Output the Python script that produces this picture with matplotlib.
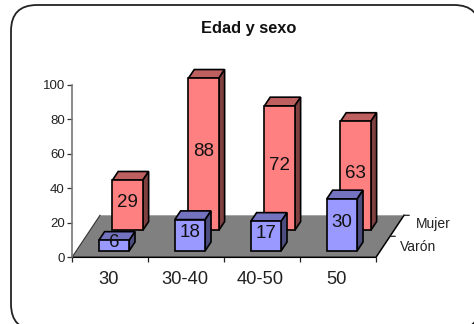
from __future__ import annotations

import matplotlib

matplotlib.use("Agg")

import matplotlib.pyplot as plt
from matplotlib.patches import FancyBboxPatch, Polygon
from matplotlib.transforms import Affine2D

categories = ["30", "30-40", "40-50", "50"]
varon = [6, 18, 17, 30]
mujer = [29, 88, 72, 63]
y_ticks = [0, 20, 40, 60, 80, 100]
series_names = ["Varón", "Mujer"]

W, H = 474, 324
plt.rcParams["font.family"] = ["Liberation Sans", "DejaVu Sans"]

# oblique depth: how far one full unit of depth moves in x (categories) and y (values)
DEPTH_X = 28 / 76
DEPTH_Y = 42 / 1.728
BAR_W = 0.40
BAR_SHIFT = 0.495


def project(x, y, depth):
    return x + depth * DEPTH_X, y + depth * DEPTH_Y


def draw_bar(ax, i, value, depth0, depth1, colors):
    left = i + BAR_SHIFT - BAR_W / 2
    right = left + BAR_W
    front, top, side = colors

    top_pts = [
        project(left, value, depth0),
        project(right, value, depth0),
        project(right, value, depth1),
        project(left, value, depth1),
    ]
    side_pts = [
        project(right, 0, depth0),
        project(right, 0, depth1),
        project(right, value, depth1),
        project(right, value, depth0),
    ]
    front_pts = [
        project(left, 0, depth0),
        project(right, 0, depth0),
        project(right, value, depth0),
        project(left, value, depth0),
    ]
    for pts, color in [(top_pts, top), (side_pts, side), (front_pts, front)]:
        ax.add_patch(Polygon(pts, closed=True, facecolor=color, edgecolor="black",
                             linewidth=1.2, joinstyle="miter", clip_on=False, zorder=3))

    cx, cy = project(i + BAR_SHIFT, value / 2, depth0)
    ax.annotate(str(value), (cx, cy), xytext=(0, 2), textcoords="offset points",
                ha="center", va="center", fontsize=13.5, color="#111111",
                annotation_clip=False, zorder=4)


fig = plt.figure(figsize=(W / 100, H / 100), dpi=100, facecolor="white")

# rounded chart frame, runs past the right and bottom edges of the picture
frame = FancyBboxPatch(
    (29, 23), 433, 289,
    boxstyle="round,pad=18,rounding_size=26",
    transform=Affine2D().scale(1 / W, -1 / H).translate(0, 1) + fig.transFigure,
    facecolor="white", edgecolor="#222222", linewidth=1.3, clip_on=False, zorder=-1,
)
fig.add_artist(frame)

ax = fig.add_axes([72 / W, 1 - 257.3 / H, (376 - 72) / W, (257.3 - 84.5) / H])
ax.patch.set_alpha(0)
ax.set_xlim(0, len(categories))
ax.set_ylim(0, 100)

for spine in ["top", "right", "bottom"]:
    ax.spines[spine].set_visible(False)
ax.spines["left"].set_color("#777777")
ax.spines["left"].set_linewidth(1.2)

# grey floor
n = len(categories)
floor = [project(0, 0, 0), project(n, 0, 0), project(n, 0, 1), project(0, 0, 1)]
ax.add_patch(Polygon(floor, closed=True, facecolor="#808080", edgecolor="none",
                     clip_on=False, zorder=1))
ax.plot(*zip(project(0, 0, 0), project(n, 0, 0), project(n, 0, 1)), color="black",
        linewidth=1.1, clip_on=False, zorder=2)
ax.plot(*zip(project(0, 0, 0), project(0, 0, 1)), color="#333333", linewidth=0.8,
        clip_on=False, zorder=2)

ax.set_yticks(y_ticks)
ax.set_yticklabels([str(v) for v in y_ticks], fontsize=9.5)
ax.tick_params(axis="y", length=3.6, width=0.9, color="#333333", pad=1.5, labelcolor="#222222")

ax.set_xticks(range(n + 1))
ax.set_xticklabels([])
ax.tick_params(axis="x", length=3.6, width=0.9, color="#222222")
for i, name in enumerate(categories):
    ax.annotate(name, (i + 0.5, 0), xytext=(-1, -16), textcoords="offset points",
                ha="center", va="center", fontsize=13.2, color="#222222",
                annotation_clip=False)

# depth axis, ticks stick out to the right of the floor edge
for depth in [0.5, 1]:
    x0, y0 = project(n, 0, depth)
    ax.annotate("", (x0, y0), xytext=(3.8, 0), textcoords="offset points",
                arrowprops=dict(arrowstyle="-", color="#222222", linewidth=0.9,
                                shrinkA=0, shrinkB=0),
                annotation_clip=False)

x0, y0 = project(n, 0, 0.25)
ax.annotate(series_names[0], (x0, y0), xytext=(12.5, 0), textcoords="offset points",
            ha="left", va="center", fontsize=10, color="#222222", annotation_clip=False)
x0, y0 = project(n, 0, 0.79)
ax.annotate(series_names[1], (x0, y0), xytext=(12.5, 0), textcoords="offset points",
            ha="left", va="center", fontsize=10, color="#222222", annotation_clip=False)

# back row first so the front row overlaps it
for i, value in enumerate(mujer):
    draw_bar(ax, i, value, 0.643, 0.85, ("#FF8080", "#BF6060", "#804040"))
for i, value in enumerate(varon):
    draw_bar(ax, i, value, 0.157, 0.364, ("#9999FF", "#7373BF", "#4D4D80"))

fig.text(249 / W, 1 - 29 / H, "Edad y sexo", ha="center", va="center",
         fontsize=11.8, fontweight="bold", color="#111111")

fig.savefig("out.png", dpi=100)
plt.close(fig)
